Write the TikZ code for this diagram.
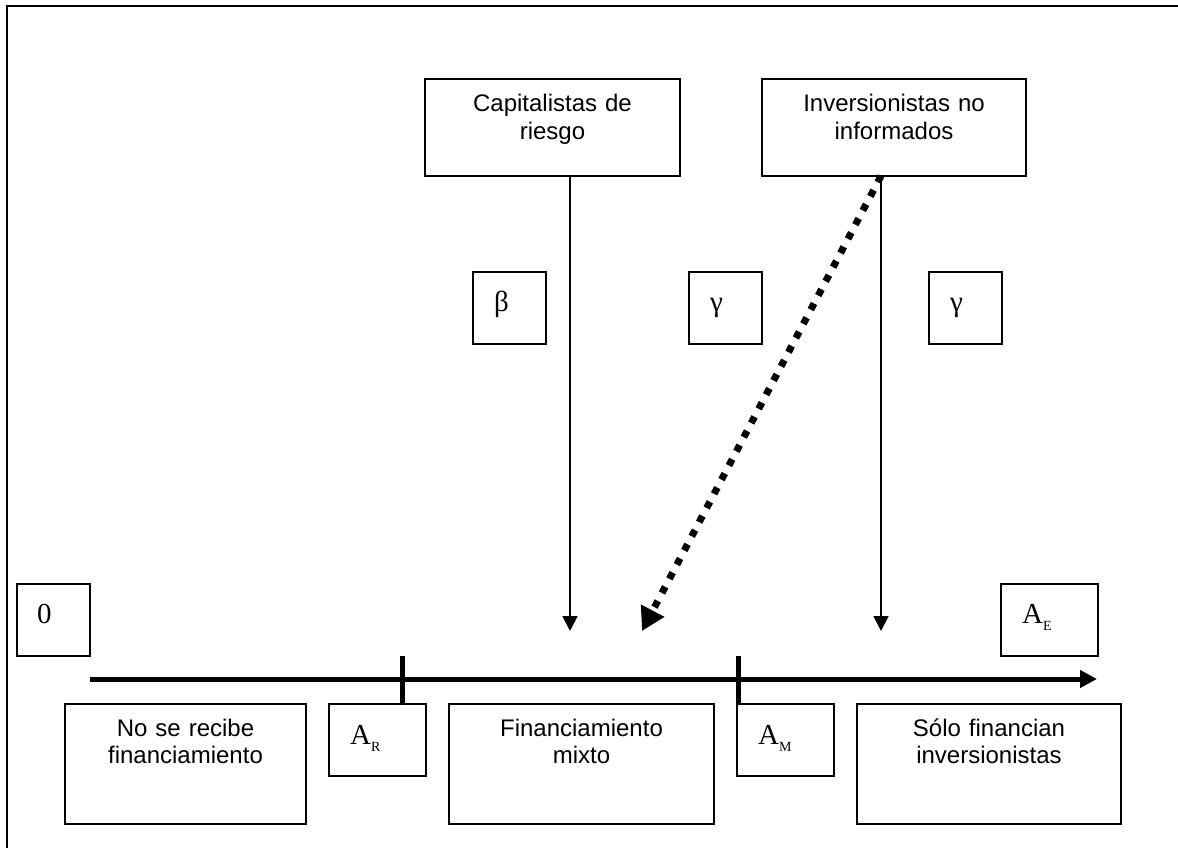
\documentclass[tikz,border=0pt]{standalone}
\usepackage{fontspec}
\setmainfont{Liberation Serif}
\newfontfamily\sansf{Liberation Sans}
\usetikzlibrary{arrows.meta,calc}
\newcommand{\lsub}[1]{\raisebox{-7pt}{\fontsize{14}{14}\selectfont #1}}
\begin{document}
\begin{tikzpicture}[x=1pt,y=-1pt,
  box/.style={draw, line width=1.5pt, anchor=north west, inner sep=0pt, outer sep=0pt},
  stext/.style={anchor=base, align=center, text width=240pt, inner sep=0pt,
    font=\sansf\fontsize{24}{27.6}\selectfont},
  ltext/.style={anchor=base west, inner sep=0pt, font=\fontsize{29}{29}\selectfont},
  thinarrow/.style={line width=1.8pt, -{Triangle[length=15pt,width=15pt]}},
  dotarrow/.style={line width=7pt, dash pattern=on 7pt off 9pt,
    -{Triangle[length=23pt,width=25pt]}},
  axisline/.style={line width=5pt, -{Triangle[length=17pt,width=17pt]}},
  tickline/.style={line width=5pt},
  frameline/.style={line width=2pt}
]
\useasboundingbox (0,0) rectangle (1178,848);
% frame (only top and left edges visible)
\coordinate (fbl) at (7,848);
\coordinate (ftl) at (7,6.5);
\coordinate (ftr) at (1178,6.5);
\draw[frameline] (fbl) -- (ftl) -- (ftr);

% top boxes
\node[box, minimum width=255pt, minimum height=97pt] (cap) at (425,79) {};
\node[stext] (capt) at ($(cap.north)+(0,33)$) {Capitalistas de\\riesgo};
\node[box, minimum width=264pt, minimum height=97pt] (inv) at (762,79) {};
\node[stext] (invt) at ($(inv.north)+(0,33)$) {Inversionistas no\\informados};

% parameter boxes
\node[box, minimum width=73pt, minimum height=72pt] (beta) at (473,272) {};
\node[ltext] (betat) at ($(beta.north west)+(21,39)$) {β};
\node[box, minimum width=73pt, minimum height=72pt] (ga) at (689,272) {};
\node[ltext] (gat) at ($(ga.north west)+(21,39)$) {γ};
\node[box, minimum width=73pt, minimum height=72pt] (gb) at (929,272) {};
\node[ltext] (gbt) at ($(gb.north west)+(21,39)$) {γ};

% axis labels above
\node[box, minimum width=73pt, minimum height=72pt] (zero) at (17,584) {};
\node[ltext] (zerot) at ($(zero.north west)+(20,39)$) {0};
\node[box, minimum width=97pt, minimum height=72pt] (ae) at (1001,584) {};
\node[ltext] (aet) at ($(ae.north west)+(21,39)$) {A\lsub{E}};

% bottom boxes
\node[box, minimum width=241pt, minimum height=120pt] (nose) at (65,704) {};
\node[stext] (noset) at ($(nose.north)+(0,32)$) {No se recibe\\financiamiento};
\node[box, minimum width=97pt, minimum height=72pt] (ar) at (329,704) {};
\node[ltext] (art) at ($(ar.north west)+(21,40)$) {A\lsub{R}};
\node[box, minimum width=265pt, minimum height=120pt] (fin) at (449,704) {};
\node[stext] (fint) at ($(fin.north)+(0,32)$) {Financiamiento\\mixto};
\node[box, minimum width=97pt, minimum height=72pt] (am) at (737,704) {};
\node[ltext] (amt) at ($(am.north west)+(21,40)$) {A\lsub{M}};
\node[box, minimum width=264pt, minimum height=120pt] (solo) at (857,704) {};
\node[stext] (solot) at ($(solo.north)+(0,32)$) {Sólo financian\\inversionistas};

% axis
\coordinate (axs) at (90,679);
\coordinate (axe) at (1097,679);
\draw[axisline] (axs) -- (axe);
\coordinate (t1) at (402,656);
\draw[tickline] (t1) -- (ar.north -| t1);
\coordinate (t2) at (738,656);
\draw[tickline] (t2) -- (am.north -| t2);

% arrows from investors
\coordinate (capd) at (570,631);
\coordinate (invd) at (881,631);
\coordinate (dotd) at (642,631);
\draw[thinarrow] (cap.south -| capd) -- (capd);
\draw[thinarrow] (inv.south -| invd) -- (invd);
\draw[dotarrow] (inv.south -| invd) -- (dotd);
\end{tikzpicture}
\end{document}
